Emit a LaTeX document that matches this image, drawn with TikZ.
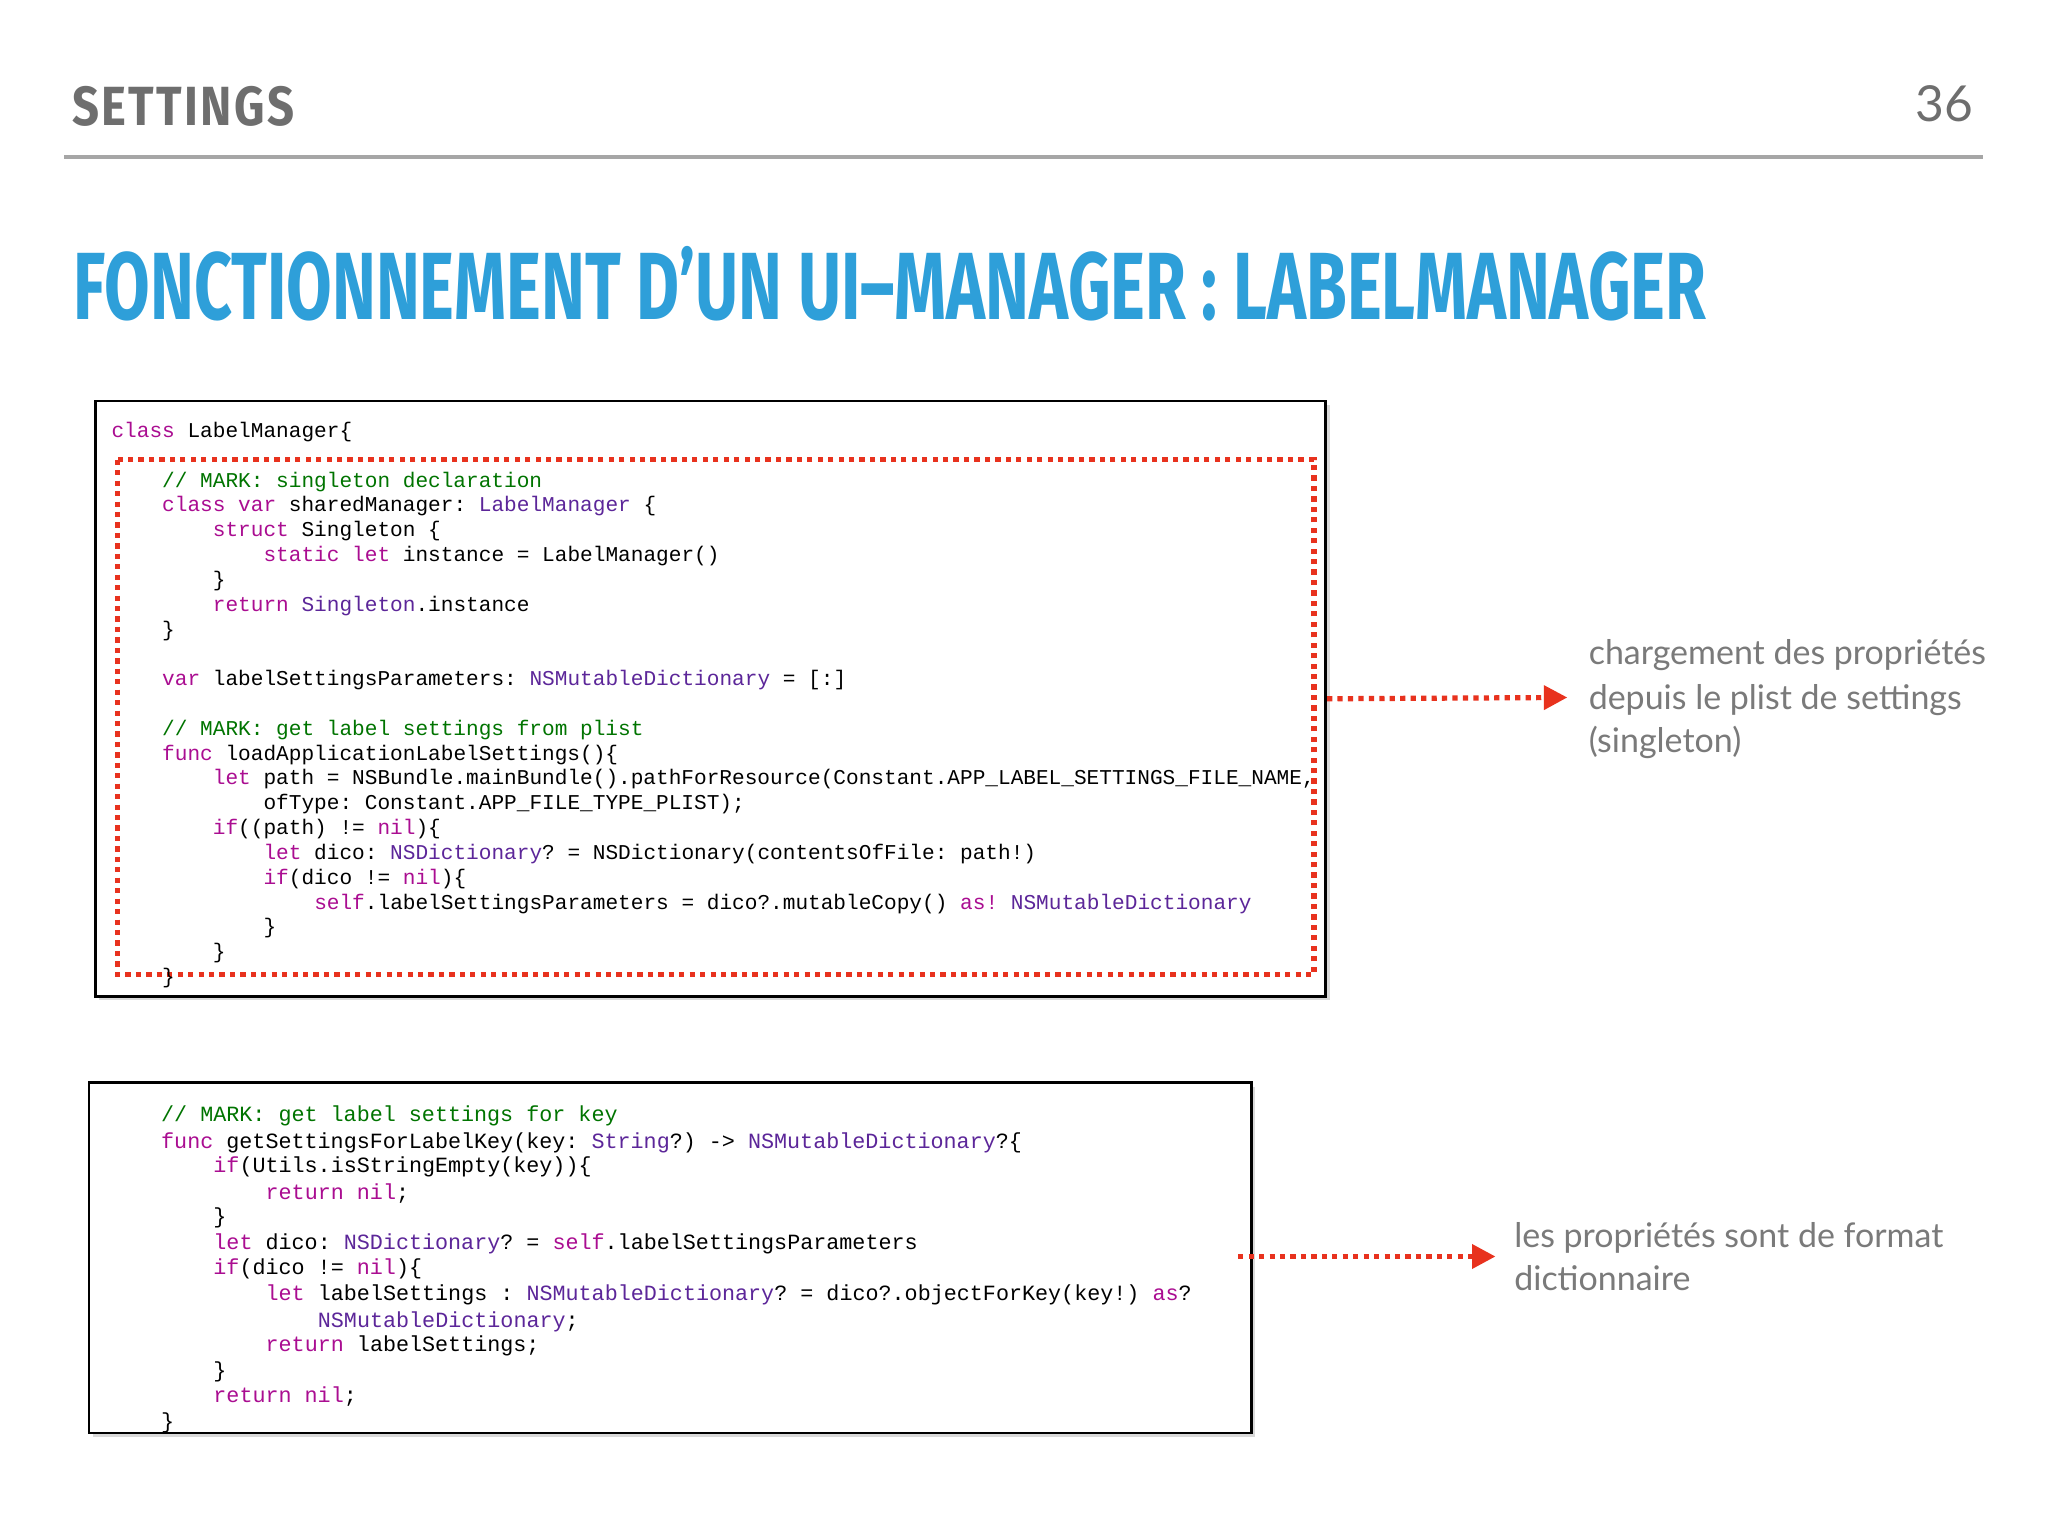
\documentclass[tikz,border=0pt]{standalone}
\usepackage{fontspec}
\usepackage{graphicx}
\setmainfont{Lato}
\setmonofont{Liberation Mono}
\newfontfamily\titlefont{Fira Sans}
\usetikzlibrary{arrows.meta}
\definecolor{kwc}{HTML}{AA0D91}
\definecolor{cmc}{HTML}{007400}
\definecolor{tyc}{HTML}{5C2699}
\definecolor{titleblue}{HTML}{2E9FD9}
\definecolor{hdgray}{HTML}{6E6E6E}
\definecolor{notegray}{HTML}{7A7A7A}
\definecolor{arrred}{HTML}{E8321E}
\newcommand{\kw}[1]{\textcolor{kwc}{#1}}
\newcommand{\cm}[1]{\textcolor{cmc}{#1}}
\newcommand{\ty}[1]{\textcolor{tyc}{#1}}
\tikzset{
 codeA/.style={anchor=base west,inner sep=0,font=\ttfamily\fontsize{8.08}{9}\selectfont},
 codeB/.style={anchor=base west,inner sep=0,font=\ttfamily\fontsize{8.32}{9}\selectfont},
 note/.style={anchor=base west,inner sep=0,font=\fontsize{13}{16}\selectfont,text=notegray},
 codebox/.style={draw=black,line width=1pt,fill=white},
 redarrow/.style={draw=arrred,line width=2pt,dotted,-{Triangle[length=9pt,width=9pt,fill=arrred]}},
}
\begin{document}
\begin{tikzpicture}[x=0.5pt,y=-0.5pt]
\useasboundingbox[fill=white] (0,0) rectangle (1568,1176);
% header
\node[anchor=base west,inner sep=0,text=hdgray] (hd) at (55,96) {\resizebox{85pt}{15pt}{\titlefont\bfseries S\kern0.5pt E\kern0.5pt T\kern0.5pt T\kern0.5pt I\kern0.5pt N\kern0.5pt G\kern0.5pt S}};
\node[anchor=base east,inner sep=0,text=hdgray,font=\fontsize{19}{22}\selectfont] (pg) at (1511,93) {36};
\draw[line width=1.5pt,color=black!35] (49,120) -- (1518,120);
% title
\node[anchor=base west,inner sep=0,text=titleblue] (title) at (56,245) {\resizebox{625pt}{28pt}{\titlefont\bfseries FONCTIONNEMENT D’UN UI–MANAGER : LABELMANAGER}};
% box 1
\draw[fill=black!15,draw=none] (76,310) rectangle (1018,766);
\node[codebox,minimum width=471pt,minimum height=228pt,anchor=north west] (box1) at (72,306) {};
\draw[arrred,line width=2pt,dotted] (90,352) rectangle (1006,746);
\node[codeA] (a1) at (85,335) {\kw{class} LabelManager\{};
\node[codeA] (a2) at (123.8,373) {\cm{// MARK: singleton declaration}};
\node[codeA] (a3) at (123.8,392) {\kw{class var} sharedManager: \ty{LabelManager} \{};
\node[codeA] (a4) at (162.6,411) {\kw{struct} Singleton \{};
\node[codeA] (a5) at (201.4,430) {\kw{static let} instance = LabelManager()};
\node[codeA] (a6) at (162.6,449) {\}};
\node[codeA] (a7) at (162.6,468) {\kw{return} \ty{Singleton}.instance};
\node[codeA] (a8) at (123.8,487) {\}};
\node[codeA] (a9) at (123.8,525) {\kw{var} labelSettingsParameters: \ty{NSMutableDictionary} = [:]};
\node[codeA] (a10) at (123.8,563) {\cm{// MARK: get label settings from plist}};
\node[codeA] (a11) at (123.8,582) {\kw{func} loadApplicationLabelSettings()\{};
\node[codeA] (a12) at (162.6,601) {\kw{let} path = NSBundle.mainBundle().pathForResource(Constant.APP\_LABEL\_SETTINGS\_FILE\_NAME,};
\node[codeA] (a13) at (201.4,620) {ofType: Constant.APP\_FILE\_TYPE\_PLIST);};
\node[codeA] (a14) at (162.6,639) {\kw{if}((path) != \kw{nil})\{};
\node[codeA] (a15) at (201.4,658) {\kw{let} dico: \ty{NSDictionary}? = NSDictionary(contentsOfFile: path!)};
\node[codeA] (a16) at (201.4,677) {\kw{if}(dico != \kw{nil})\{};
\node[codeA] (a17) at (240.2,696) {\kw{self}.labelSettingsParameters = dico?.mutableCopy() \kw{as!} \ty{NSMutableDictionary}};
\node[codeA] (a18) at (201.4,715) {\}};
\node[codeA] (a19) at (162.6,734) {\}};
\node[codeA] (a20) at (123.8,753) {\}};
\coordinate (t1) at (1200,534);
\draw[redarrow] (box1.east) -- (t1);
\node[note] (n1) at (1216,509) {chargement des propriétés};
\node[note] (n2) at (1216,543) {depuis le plist de settings};
\node[note] (n3) at (1216,576) {(singleton)};
% box 2
\draw[fill=black!15,draw=none] (71,832) rectangle (961,1100);
\node[codebox,minimum width=445pt,minimum height=134pt,anchor=north west] (box2) at (67,828) {};
\node[codeB] (b1) at (123,859) {\cm{// MARK: get label settings for key}};
\node[codeB] (b2) at (123,879) {\kw{func} getSettingsForLabelKey(key: \ty{String}?) -> \ty{NSMutableDictionary}?\{};
\node[codeB] (b3) at (163,898) {\kw{if}(Utils.isStringEmpty(key))\{};
\node[codeB] (b4) at (203,918) {\kw{return nil};};
\node[codeB] (b5) at (163,937) {\}};
\node[codeB] (b6) at (163,957) {\kw{let} dico: \ty{NSDictionary}? = \kw{self}.labelSettingsParameters};
\node[codeB] (b7) at (163,976) {\kw{if}(dico != \kw{nil})\{};
\node[codeB] (b8) at (203,996) {\kw{let} labelSettings : \ty{NSMutableDictionary}? = dico?.objectForKey(key!) \kw{as}?};
\node[codeB] (b9) at (243,1016) {\ty{NSMutableDictionary};};
\node[codeB] (b10) at (203,1035) {\kw{return} labelSettings;};
\node[codeB] (b11) at (163,1055) {\}};
\node[codeB] (b12) at (163,1074) {\kw{return nil};};
\node[codeB] (b13) at (123,1094) {\}};
\coordinate (s2) at (948,962);
\coordinate (t2) at (1145,962);
\draw[redarrow] (s2) -- (t2);
\node[note] (m1) at (1159,955) {les propriétés sont de format};
\node[note] (m2) at (1159,988) {dictionnaire};
\end{tikzpicture}
\end{document}
